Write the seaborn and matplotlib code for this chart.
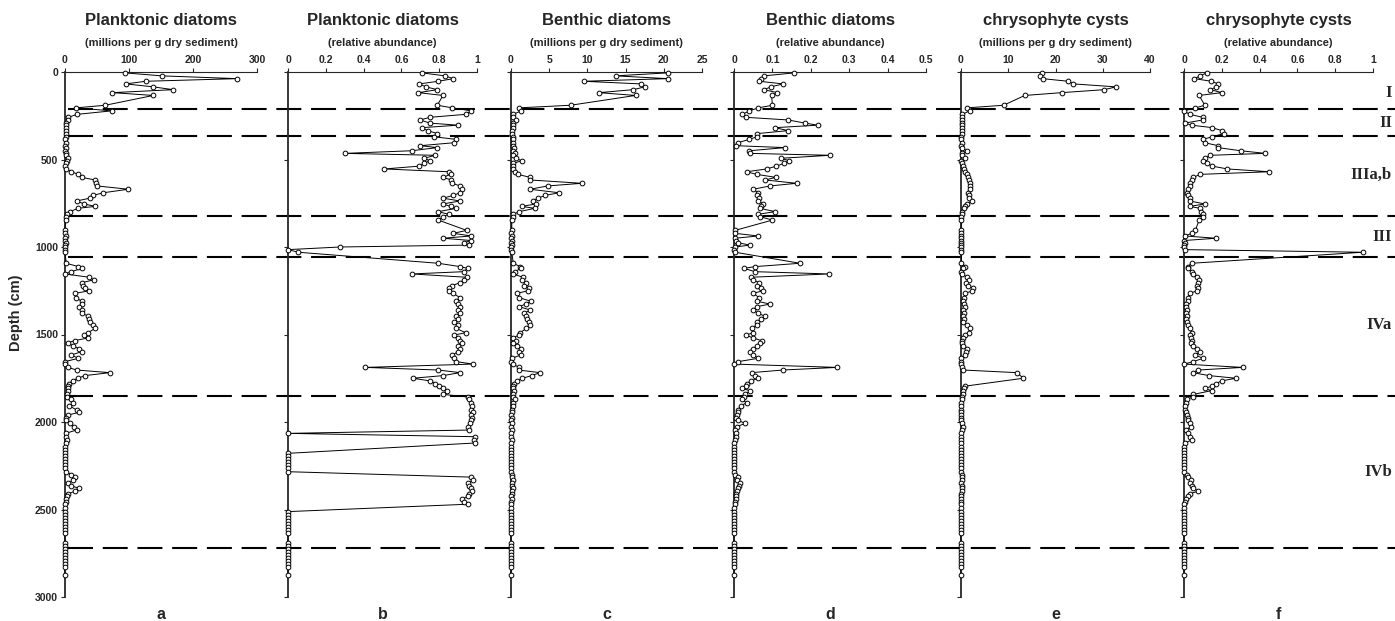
import numpy as np
import pandas as pd
import seaborn as sns
import matplotlib.pyplot as plt

nan = np.nan

# sample depths (cm), grouped by zone
depth = [
    5, 22, 38, 53, 68, 85, 101, 118, 134, 190, 205,
    222, 242, 259, 274, 292, 304, 318, 335, 352,
    370, 385, 404, 421, 432, 450, 465, 476, 493, 507,
    522, 538, 554, 570, 585, 602, 617, 636, 651, 670,
    690, 705, 721, 737, 754, 768, 779, 798, 813,
    827, 846, 905, 922, 937, 950, 963, 976, 989, 1000, 1015, 1030,
    1093, 1112, 1122, 1141, 1154, 1173, 1188, 1204, 1220, 1235,
    1250, 1265, 1290, 1310, 1326, 1341, 1360, 1379, 1395, 1412,
    1430, 1446, 1465, 1490, 1503, 1520, 1535, 1547, 1565, 1580,
    1598, 1617, 1636, 1655, 1669, 1688, 1703, 1718, 1735, 1750,
    1765, 1780, 1795, 1808, 1821, 1842,
    1857, 1870, 1890, 1908, 1931, 1945, 1960, 1975, 1990, 2008,
    2027, 2046, 2065, 2084, 2103, 2120, 2140, 2160, 2179, 2195,
    2210, 2228, 2245, 2262, 2284, 2300, 2315, 2331, 2350, 2365,
    2379, 2395, 2410, 2425, 2440, 2455, 2470, 2490, 2512, 2530,
    2548, 2565, 2582, 2600, 2618, 2636, 2693, 2710,
    2728, 2745, 2762, 2778, 2795, 2811, 2827, 2875,
]

plank_abs = [
    94, 151, 269, 126, 95, 138, 169, 74, 138, 63, 17,
    73, 19, 5, 5, 2, 1, 1, 1, 1,
    1, 0, 1, 0, 1, 0, 1, 2, 4, 3,
    1, 0, 2, 10, 21, 26, 47, 49, 50, 99,
    60, 44, 39, 18, 30, 47, 20, 8, 3,
    2, 1, 0, 0, 1, 0, 0, 1, 0, 0, 0, 0,
    2, 21, 26, 10, 0, 38, 45, 26, 28, 31,
    38, 16, 17, 26, 26, 22, 26, 27, 36, 38,
    39, 44, 47, 36, 30, 36, 15, 5, 12, 22,
    26, 10, 21, 0, 0, 5, 18, 70, 31, 20,
    12, 6, 5, 4, 4, 3,
    3, 10, 13, 7, 18, 22, 5, 2, 1, 8,
    14, 18, 1, 1, 3, 1, 0, 0, 0, 0,
    0, 0, 0, 0, 1, 10, 16, 13, 5, 10,
    22, 16, 5, 3, 2, 1, 0, 0, 0, 0,
    0, 0, 0, 0, 0, 0, 0, 0,
    0, 0, 0, 0, 0, 0, 0, 0,
]

plank_rel = [
    0.71, 0.83, 0.875, 0.795, 0.695, 0.73, 0.79, 0.69, 0.82, 0.79, 0.87,
    0.97, 0.94, 0.75, 0.70, 0.75, 0.90, 0.71, 0.74, 0.79,
    0.77, 0.89, 0.88, 0.70, 0.79, 0.655, 0.30, 0.78, 0.72, 0.75,
    0.72, 0.695, 0.51, 0.85, 0.86, 0.82, 0.865, 0.87, 0.91, 0.92,
    0.91, 0.875, 0.82, 0.91, 0.82, 0.86, 0.89, 0.795, 0.85,
    0.82, 0.795, 0.945, 0.875, 0.97, 0.82, 0.97, 0.93, 0.96, 0.275, 0.0, 0.055,
    0.795, 0.91, 0.95, 0.93, 0.655, 0.945, 0.93, 0.91, 0.87, 0.85,
    0.85, 0.875, 0.91, 0.89, 0.90, 0.91, 0.90, 0.91, 0.89, 0.90,
    0.88, 0.90, 0.89, 0.94, 0.88, 0.90, 0.91, 0.92, 0.90, 0.91,
    0.90, 0.87, 0.88, 0.89, 0.98, 0.41, 0.795, 0.91, 0.82, 0.66,
    0.75, 0.78, 0.80, 0.82, 0.84, 0.82,
    0.95, 0.96, 0.97, 0.975, 0.97, 0.98, 0.97, 0.975, 0.97, 0.965,
    0.95, 0.96, 0.0, 0.99, 0.985, 0.99, nan, nan, 0.0, 0.0,
    0.0, 0.0, 0.0, 0.0, 0.0, nan, 0.97, 0.98, 0.95, 0.96,
    0.97, 0.975, 0.96, 0.955, 0.92, 0.93, 0.95, nan, 0.0, 0.0,
    0.0, 0.0, 0.0, 0.0, 0.0, 0.0, 0.0, 0.0,
    0.0, 0.0, 0.0, 0.0, 0.0, 0.0, 0.0, 0.0,
]

benth_abs = [
    20.5, 13.7, 20.5, 9.5, 17.0, 17.5, 16.0, 11.5, 16.3, 7.8, 1.0,
    1.3, 0.3, 0.2, 0.7, 0.2, 0.3, 0.2, 0.1, 0.1,
    0.2, 0.2, 0.3, 0.2, 0.4, 0.2, 0.5, 0.3, 0.6, 1.4,
    0.3, 0.2, 0.3, 0.5, 0.9, 2.5, 2.5, 9.3, 4.8, 2.5,
    6.3, 4.5, 3.5, 2.9, 3.3, 1.4, 3.1, 1.1, 0.3,
    0.2, 0.1, 0.1, 0.0, 0.1, 0.0, 0.1, 0.0, 0.1, 0.0, 0.0, 0.1,
    0.3, 1.2, 1.3, 0.5, 0.2, 1.6, 1.5, 1.9, 1.7, 2.3,
    2.2, 0.8, 1.1, 2.6, 1.9, 1.1, 2.5, 1.7, 2.0, 2.1,
    2.3, 2.5, 2.0, 1.2, 1.0, 0.3, 0.6, 0.3, 0.8, 1.3,
    1.0, 1.3, 0.1, 0.0, 0.2, 1.1, 1.0, 3.8, 2.7, 1.5,
    0.8, 0.4, 0.2, 0.3, 0.4, 0.3,
    0.3, 0.5, 0.2, 0.3, 0.1, 0.1, 0.0, 0.1, 0.0, 0.1,
    0.0, 0.1, 0.0, 0.0, 0.1, 0.0, 0.0, 0.0, 0.0, 0.0,
    0.0, 0.0, 0.0, 0.0, 0.0, 0.1, 0.1, 0.2, 0.1, 0.1,
    0.2, 0.1, 0.1, 0.0, 0.1, 0.0, 0.0, 0.0, 0.0, 0.0,
    0.0, 0.0, 0.0, 0.0, 0.0, 0.0, 0.0, 0.0,
    0.0, 0.0, 0.0, 0.0, 0.0, 0.0, 0.0, 0.0,
]

benth_rel = [
    0.157, 0.078, 0.07, 0.066, 0.128, 0.096, 0.078, 0.113, 0.098, 0.10, 0.063,
    0.04, 0.022, 0.031, 0.141, 0.185, 0.218, 0.107, 0.141, 0.06,
    0.06, 0.04, 0.01, 0.004, 0.133, 0.04, 0.042, 0.25, 0.122, 0.144,
    0.13, 0.11, 0.085, 0.033, 0.059, 0.109, 0.081, 0.163, 0.094, 0.05,
    0.063, 0.06, 0.065, 0.063, 0.076, 0.07, 0.068, 0.107, 0.063,
    0.068, 0.10, 0.003, 0.003, 0.063, 0.003, 0.005, 0.01, 0.042, 0.003, 0.0, 0.003,
    0.172, 0.055, 0.026, 0.055, 0.248, 0.043, 0.05, 0.066, 0.06, 0.07,
    0.075, 0.05, 0.066, 0.06, 0.094, 0.059, 0.05, 0.063, 0.08, 0.07,
    0.06, 0.059, 0.046, 0.05, 0.031, 0.05, 0.072, 0.068, 0.06, 0.05,
    0.042, 0.05, 0.063, 0.011, 0.0, 0.269, 0.127, 0.046, 0.055, 0.063,
    0.045, 0.035, 0.03, 0.02, 0.042, 0.029,
    0.025, 0.02, 0.033, 0.017, 0.011, 0.01, 0.007, 0.006, 0.01, 0.029,
    0.007, 0.003, 0.004, 0.004, 0.003, 0.0, 0.0, 0.0, 0.0, 0.0,
    0.0, 0.0, 0.0, 0.0, 0.0, 0.003, 0.01, 0.007, 0.016, 0.014,
    0.011, 0.009, 0.005, 0.006, 0.004, 0.003, 0.002, 0.001, 0.0, 0.0,
    0.0, 0.0, 0.0, 0.0, 0.0, 0.0, 0.0, 0.0,
    0.0, 0.0, 0.0, 0.0, 0.0, 0.0, 0.0, 0.0,
]

cyst_abs = [
    17.2, 16.8, 17.3, 22.7, 23.8, 32.8, 30.3, 21.3, 13.5, 9.0, 1.2,
    1.8, 0.3, 0.2, 0.3, 0.2, 0.3, 0.2, 0.3, 0.2,
    0.1, 0.1, 0.2, 0.1, 0.2, 1.2, 0.2, 0.3, 0.9, 0.1,
    0.2, 0.4, 0.7, 0.9, 1.2, 1.4, 1.6, 1.9, 1.8, 1.9,
    1.4, 1.6, 1.7, 2.3, 1.2, 0.9, 0.6, 0.3, 0.2,
    0.1, 0.1, 0.0, 0.1, 0.0, 0.1, 0.0, 0.1, 0.0, 0.1, 0.0, 0.1,
    0.1, 0.9, 0.5, 0.1, 0.3, 1.2, 1.6, 1.0, 1.5, 2.5,
    2.4, 0.9, 0.7, 0.5, 0.6, 0.9, 0.5, 0.6, 0.5, 0.6,
    0.5, 1.2, 1.9, 1.6, 0.9, 0.4, 0.2, 0.3, 0.5, 1.2,
    1.1, 0.9, 0.0, 0.0, 0.1, 0.3, 0.5, 11.8, nan, 13.2,
    nan, nan, 0.9, 0.7, 0.5, 0.4,
    0.3, 0.2, 0.1, 0.0, 0.1, 0.0, 0.1, 0.0, 0.1, 0.2,
    0.4, 0.2, 0.1, 0.0, 0.1, 0.0, 0.0, 0.0, 0.0, 0.0,
    0.0, 0.1, 0.0, 0.0, 0.1, 0.2, 0.3, 0.2, 0.1, 0.2,
    0.3, 0.2, 0.1, 0.0, 0.1, 0.0, 0.0, 0.0, 0.0, 0.0,
    0.0, 0.0, 0.0, 0.0, 0.0, 0.0, 0.0, 0.0,
    0.0, 0.0, 0.0, 0.0, 0.0, 0.0, 0.0, 0.0,
]

cyst_rel = [
    0.12, 0.085, 0.055, 0.145, 0.18, 0.17, 0.14, 0.20, 0.08, 0.11, 0.06,
    0.0, 0.03, 0.10, 0.10, 0.005, 0.04, 0.15, 0.20, 0.21,
    0.15, 0.10, 0.11, 0.18, 0.18, 0.30, 0.43, 0.14, 0.11, 0.10,
    0.12, 0.15, 0.23, 0.45, 0.085, 0.05, 0.04, 0.03, 0.03, 0.02,
    0.015, 0.02, 0.03, 0.03, 0.11, 0.03, 0.085, 0.09, 0.10,
    0.10, 0.08, 0.06, 0.04, 0.005, 0.17, 0.0, 0.005, 0.0, 0.0, 0.005, 0.945,
    0.04, 0.02, 0.02, 0.04, 0.05, 0.07, 0.08, 0.075, 0.07, 0.075,
    0.07, 0.03, 0.02, 0.02, 0.01, 0.01, 0.015, 0.01, 0.015, 0.01,
    0.015, 0.02, 0.03, 0.04, 0.03, 0.035, 0.04, 0.035, 0.05, 0.07,
    0.085, 0.06, 0.10, 0.05, 0.0, 0.31, 0.076, 0.046, 0.134, 0.275,
    0.2, 0.17, 0.15, 0.11, 0.146, 0.05,
    0.05, 0.014, 0.01, 0.005, 0.005, 0.01, 0.015, 0.02, 0.023, 0.03,
    0.035, 0.01, 0.02, 0.03, 0.04, 0.005, 0.0, 0.0, 0.0, 0.0,
    0.0, 0.0, 0.0, 0.0, 0.0, 0.015, 0.023, 0.035, 0.03, 0.04,
    0.05, 0.076, 0.03, 0.02, 0.01, 0.005, 0.0, 0.0, 0.0, 0.0,
    0.0, 0.0, 0.0, 0.0, 0.0, 0.0, 0.0, 0.0,
    0.0, 0.0, 0.0, 0.0, 0.0, 0.0, 0.0, 0.0,
]

titles = ["Planktonic diatoms", "Planktonic diatoms", "Benthic diatoms",
          "Benthic diatoms", "chrysophyte cysts", "chrysophyte cysts"]
subtitles = ["(millions per g dry sediment)", "(relative abundance)",
             "(millions per g dry sediment)", "(relative abundance)",
             "(millions per g dry sediment)", "(relative abundance)"]
letters = ["a", "b", "c", "d", "e", "f"]
series = [plank_abs, plank_rel, benth_abs, benth_rel, cyst_abs, cyst_rel]
xmaxes = [300, 1, 25, 0.5, 40, 1]
xticks = [
    [0, 100, 200, 300],
    [0, 0.2, 0.4, 0.6, 0.8, 1],
    [0, 5, 10, 15, 20, 25],
    [0, 0.1, 0.2, 0.3, 0.4, 0.5],
    [0, 10, 20, 30, 40],
    [0, 0.2, 0.4, 0.6, 0.8, 1],
]
xticklabels = [
    ["0", "100", "200", "300"],
    ["0", "0.2", "0.4", "0.6", "0.8", "1"],
    ["0", "5", "10", "15", "20", "25"],
    ["0", "0.1", "0.2", "0.3", "0.4", "0.5"],
    ["0", "10", "20", "30", "40"],
    ["0", "0.2", "0.4", "0.6", "0.8", "1"],
]
yticks = [0, 500, 1000, 1500, 2000, 2500, 3000]

zone_bounds = [211, 366, 821, 1055, 1850, 2718]
zone_names = ["I", "II", "IIIa,b", "III", "IVa", "IVb"]
zone_name_depths = [120, 291, 589, 943, 1446, 2286]

sns.set_theme(style="ticks")
plt.rcParams['font.family'] = ['Liberation Sans', 'DejaVu Sans']
plt.rcParams['lines.scale_dashes'] = False

W, H = 1395, 621
top_px, bot_px = 72, 597
lefts = [65, 288, 511, 734, 961, 1184]
widths = [192, 189, 191, 192, 189, 189]

fig = plt.figure(figsize=(W / 100, H / 100), dpi=100)

# overlay for the zone boundaries spanning all panels
ov = fig.add_axes([65 / W, 1 - bot_px / H, (W - 65) / W, (bot_px - top_px) / H])
ov.set_xlim(0, 1)
ov.set_ylim(3000, 0)
ov.axis('off')
for z in zone_bounds:
    ov.axhline(z, xmin=0.002, xmax=1, color='black', lw=1.5, ls=(0, (18, 7)))
for name, zd in zip(zone_names, zone_name_depths):
    ov.text(0.9977, zd, name, ha='right', va='center', fontsize=12,
            fontweight='bold', family=['Liberation Serif', 'DejaVu Serif'])

for i in range(6):
    ax = fig.add_axes([lefts[i] / W, 1 - bot_px / H, widths[i] / W,
                       (bot_px - top_px) / H])
    ax.patch.set_alpha(0)
    df = pd.DataFrame({'depth': depth, 'value': series[i]}).dropna()
    sns.lineplot(data=df, x='value', y='depth', orient='y', estimator=None,
                 ax=ax, color='black', lw=0.7, marker='o', markersize=3.4,
                 markerfacecolor='white', markeredgecolor='black',
                 markeredgewidth=0.7, clip_on=False, zorder=3)
    ax.set_xlim(0, xmaxes[i])
    ax.set_ylim(3000, 0)
    ax.set_xlabel('')
    ax.set_ylabel('')

    ax.spines['right'].set_visible(False)
    ax.spines['bottom'].set_visible(False)
    ax.spines['left'].set_linewidth(1.3)
    ax.spines['top'].set_linewidth(0.8)

    ax.xaxis.tick_top()
    ax.set_xticks(xticks[i], xticklabels[i])
    ax.set_yticks(yticks)
    ax.tick_params(axis='x', direction='out', length=3, width=0.8, pad=2,
                   labelsize=7.5)
    ax.tick_params(axis='y', direction='out', length=3, width=0.8, pad=2,
                   labelsize=7.5, labelleft=(i == 0))
    for lab in ax.get_xticklabels() + ax.get_yticklabels():
        lab.set_fontweight('bold')

    ax.text(0.5, 1.099, titles[i], transform=ax.transAxes, ha='center',
            va='center', fontsize=12, fontweight='bold')
    ax.text(0.5, 1.055, subtitles[i], transform=ax.transAxes, ha='center',
            va='center', fontsize=8, fontweight='bold')
    ax.text(0.5, -0.034, letters[i], transform=ax.transAxes, ha='center',
            va='center', fontsize=11.5, fontweight='bold')

fig.text(16 / W, 1 - 313 / H, 'Depth (cm)', rotation=90, ha='center',
         va='center', fontsize=10.5, fontweight='bold')

fig.savefig('out.png', dpi=100)
